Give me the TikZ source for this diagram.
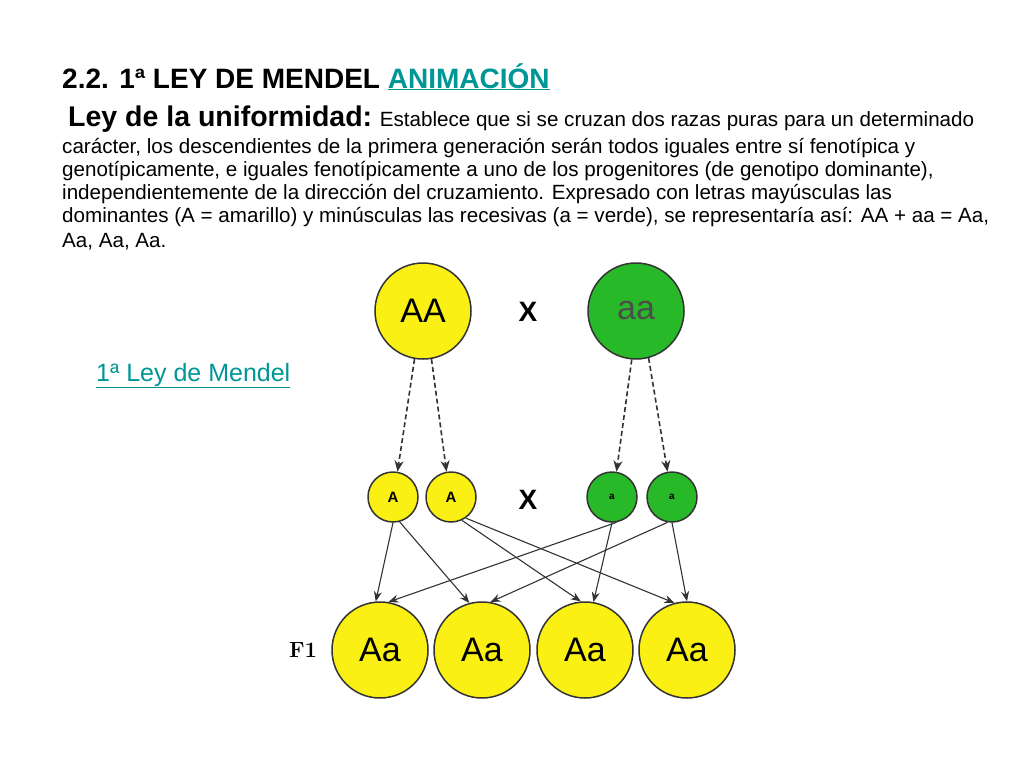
\documentclass[tikz,border=0pt]{standalone}
\usepackage{fontspec}
\setmainfont{Liberation Sans}
\newfontfamily\lmr{Latin Modern Roman}
\usetikzlibrary{arrows.meta}
\definecolor{yel}{RGB}{250,240,20}
\definecolor{grn}{RGB}{40,185,40}
\definecolor{link}{RGB}{0,150,150}
\begin{document}
\begin{tikzpicture}[x=1pt,y=-1pt,
  big/.style={circle,draw=black!80,line width=1.5pt,minimum size=96pt,inner sep=0pt,font=\fontsize{34}{34}\selectfont},
  small/.style={circle,draw=black!80,line width=1.5pt,minimum size=50pt,inner sep=0pt,font=\bfseries\fontsize{15}{15}\selectfont},
  dsh/.style={dash pattern=on 5pt off 3pt,line width=1.6pt,black!80,-{Stealth[length=11pt,width=9pt]}},
  sol/.style={line width=1.1pt,black!80,-{Stealth[length=10pt,width=8pt]}},
  txt/.style={anchor=base west,inner sep=0pt,font=\fontsize{20.6}{20.6}\selectfont}]
\useasboundingbox[fill=white] (0,0) rectangle (1024,768);
\node[txt,font=\bfseries\fontsize{28}{28}\selectfont] (t1) at (62,88) {2.2. 1ª LEY DE MENDEL \textcolor{link}{\underline{ANIMACIÓN}}};
\node[txt] (t2) at (68,126) {{\bfseries\fontsize{28.5}{28.5}\selectfont Ley de la uniformidad:} Establece que si se cruzan dos razas puras para un determinado};
\node[txt] (t3) at (62,153) {carácter, los descendientes de la primera generación serán todos iguales entre sí fenotípica y};
\node[txt] (t4) at (62,176) {genotípicamente, e iguales fenotípicamente a uno de los progenitores (de genotipo dominante),};
\node[txt] (t5) at (62,199) {independientemente de la dirección del cruzamiento. Expresado con letras mayúsculas las};
\node[txt] (t6) at (62,222) {dominantes (A = amarillo) y minúsculas las recesivas (a = verde), se representaría así: AA + aa = Aa,};
\node[txt] (t7) at (62,247) {Aa, Aa, Aa.};
\node[txt,text=link,font=\fontsize{25}{25}\selectfont] (lk) at (96,381) {\underline{1ª Ley de Mendel}};

\node[big,fill=yel] (P1) at (423,311) {AA};
\node[big,fill=grn,text=black!70] (P2) at (636,311) {aa};
\node[font=\bfseries\fontsize{28}{28}\selectfont] (x1) at (528,312) {X};
\node[small,fill=yel] (g1) at (393,497) {A};
\node[small,fill=yel] (g2) at (451,497) {A};
\node[small,fill=grn,font=\bfseries\fontsize{10}{10}\selectfont] (g3) at (612,497) {a};
\node[small,fill=grn,font=\bfseries\fontsize{10}{10}\selectfont] (g4) at (672,497) {a};
\node[font=\bfseries\fontsize{28}{28}\selectfont] (x2) at (528,500) {X};
\node[big,fill=yel] (f1) at (380,650) {Aa};
\node[big,fill=yel] (f2) at (482,650) {Aa};
\node[big,fill=yel] (f3) at (585,650) {Aa};
\node[big,fill=yel] (f4) at (687,650) {Aa};
\node[font=\bfseries\lmr\fontsize{22}{22}\selectfont] (F) at (303,650) {F1};

\draw[dsh] (P1.-100) -- (g1.80);
\draw[dsh] (P1.-80) -- (g2.100);
\draw[dsh] (P2.-95) -- (g3.80);
\draw[dsh] (P2.-75) -- (g4.100);

\draw[sol] (g1.-90) -- (f1.95);
\draw[sol] (g1.-75) -- (f2.105);
\draw[sol] (g2.-65) -- (f3.95);
\draw[sol] (g2.-55) -- (f4.105);
\draw[sol] (g3.-80) -- (f1.80);
\draw[sol] (g3.-90) -- (f3.80);
\draw[sol] (g4.-100) -- (f2.80);
\draw[sol] (g4.-90) -- (f4.90);
\end{tikzpicture}
\end{document}
